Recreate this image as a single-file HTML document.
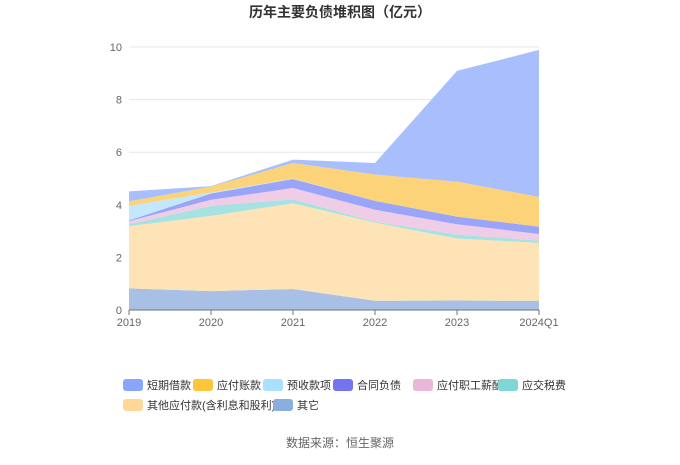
<!DOCTYPE html>
<html><head><meta charset="utf-8"><style>
body{margin:0;background:#fff;font-family:"Liberation Sans","Noto Sans CJK SC",sans-serif;}
</style></head><body>
<svg id="c" width="680" height="460" xmlns="http://www.w3.org/2000/svg" style="font-family:'Liberation Sans','Noto Sans CJK SC',sans-serif">
<text x="340" y="17" text-anchor="middle" font-size="14" font-weight="bold" fill="#333">历年主要负债堆积图（亿元）</text>
<g id="grid"></g><g id="areas"></g><g id="axes"></g><g id="legend"></g>
<text x="340" y="447" text-anchor="middle" font-size="12" fill="#666">数据来源：恒生聚源</text>
</svg>
<script>
const categories=["2019","2020","2021","2022","2023","2024Q1"];
const seriesNames=["其它","其他应付款(含利息和股利)","应交税费","应付职工薪酬","合同负债","预收款项","应付账款","短期借款"];
const other=[0.82,0.72,0.80,0.35,0.36,0.35];
const otherPayables=[2.37,2.86,3.26,2.97,2.36,2.20];
const taxes=[0.07,0.38,0.15,0.04,0.15,0.09];
const salaries=[0.12,0.23,0.43,0.45,0.39,0.25];
const contractLiab=[0.03,0.24,0.34,0.34,0.29,0.28];
const advances=[0.55,0.04,0.02,0,0,0];
const payables=[0.17,0.22,0.59,1.00,1.33,1.13];
const shortLoans=[0.38,0.02,0.13,0.44,4.21,5.59];
const yTicks=[0,2,4,6,8,10];
const series=[other,otherPayables,taxes,salaries,contractLiab,advances,payables,shortLoans];
const fills=["#a9c0e6","#fde3b5","#a6e2e2","#f0cde6","#9aa4f8","#c3e8fd","#fdd37a","#a9bffd"];
const legendColors=["#8aa5fd","#ffc53d","#a9dfff","#7474f0","#e8b7d9","#7fd6d6","#ffd899","#8aaede"];
const legendOrder=[7,6,5,4,3,2,1,0];
const NS="http://www.w3.org/2000/svg";
const x0=129,x1=539,yb=310,yt=47;
const xs=i=>x0+(x1-x0)*i/(categories.length-1);
const ys=v=>yb-(yb-yt)*v/10;
function mk(t,a,p){const e=document.createElementNS(NS,t);for(const k in a)e.setAttribute(k,a[k]);p.appendChild(e);return e;}
const grid=document.getElementById('grid'),axes=document.getElementById('axes'),areas=document.getElementById('areas'),legend=document.getElementById('legend');
yTicks.forEach(t=>{
 if(t>0){const l=mk('line',{x1:x0,x2:x1,y1:ys(t),y2:ys(t),stroke:'#e6e6f0'},grid);
 
 }
 const tx=mk('text',{x:x0-7,y:ys(t)+4,'text-anchor':'end','font-size':11,fill:'#666'},axes);tx.textContent=t;
 
 
});
const ax=mk('line',{x1:x0,x2:x1,y1:yb,y2:yb,stroke:'#6e7079'},axes);


categories.forEach((c,i)=>{
 mk('line',{x1:xs(i),x2:xs(i),y1:yb,y2:yb+5,stroke:'#6e7079'},axes);
 const tx=mk('text',{x:xs(i),y:yb+16,'text-anchor':'middle','font-size':11,fill:'#666'},axes);tx.textContent=c;
 
 
});
let base=categories.map(()=>0);
series.forEach((s,k)=>{
 const top=base.map((b,i)=>b+s[i]);
 let d='M'+top.map((v,i)=>xs(i)+','+ys(v)).join('L');
 for(let i=categories.length-1;i>=0;i--)d+='L'+xs(i)+','+ys(base[i]);
 const p=mk('path',{d:d+'Z',fill:fills[k]},areas);
 
 
 base=top;
});
legendOrder.forEach((k,j)=>{
 const row=j<6?0:1,col=j<6?j:j-6;
 const xpos=row===0?[123,193,263,333,413,498][col]:[123,273][col];
 const y=row===0?385:405;
 const g=mk('g',{},legend);
 
 
 mk('rect',{x:xpos,y:y-6,width:20,height:12,rx:3,fill:legendColors[j]},g);
 const t=mk('text',{x:xpos+24,y:y+4,'font-size':11,fill:'#333'},g);t.textContent=seriesNames[k];
});
</script>
</body></html>
